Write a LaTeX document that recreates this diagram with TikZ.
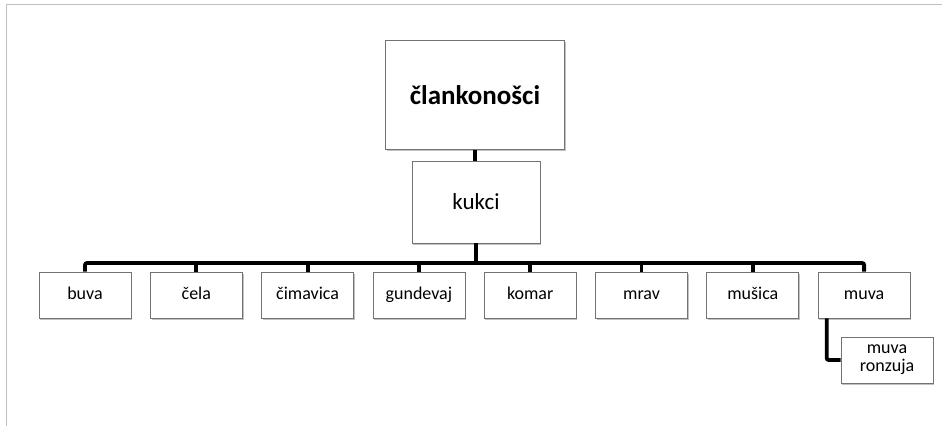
\documentclass[tikz,border=0pt]{standalone}
\usepackage{fontspec}
\setmainfont{Carlito}
\usetikzlibrary{shadows}

\begin{document}
\begin{tikzpicture}[x=1pt,y=-1pt]
      \tikzstyle{kutija}=[rectangle,draw=black!55,line width=0.7pt,fill=white,inner sep=0pt,
        drop shadow={shadow xshift=1.2pt,shadow yshift=-1.8pt,fill=black!35,opacity=0.7}]
      \tikzstyle{vrh}=[kutija,minimum width=179pt,minimum height=109pt,font=\fontsize{27}{30}\selectfont\bfseries]
      \tikzstyle{srednja}=[kutija,minimum width=128pt,minimum height=82pt,font=\fontsize{23}{26}\selectfont]
      \tikzstyle{list}=[kutija,minimum width=92pt,minimum height=46pt,font=\fontsize{18}{21}\selectfont,
        text height=12pt,text depth=4pt]
      \tikzstyle{veza}=[line width=3.8pt,black]
      \useasboundingbox (0,0) rectangle (942,426);
      % okvir
      \draw[black!25,line width=1pt] (942,4) -- (6,4) -- (6,426);
      \node[vrh] (clankonosci) at (475,95) {člankonošci};
      \node[srednja] (kukci) at (476,202) {kukci};
      \coordinate (sina) at (0,263);
      \foreach \ime/\tekst [count=\i] in {buva/buva,cela/čela,cimavica/čimavica,gundevaj/gundevaj,
          komar/komar,mrav/mrav,musica/mušica,muva/muva}
        \node[list] (\ime) at (85+111.3*\i-111.3,295) {\tekst};
      \node[list,text height=,text depth=,align=center] (ronzuja) at (887,360) {muva\\[-3pt]ronzuja};
      % veze
      \draw[veza] (clankonosci.south) -- (clankonosci.south |- kukci.north);
      \draw[veza] (kukci.south) -- (kukci.south |- sina);
      \draw[veza,rounded corners=2pt] (buva.north) -- (buva.north |- sina) -- (muva.north |- sina) -- (muva.north);
      \foreach \ime in {cela,cimavica,gundevaj,komar,mrav,musica}
        \draw[veza] (\ime.north) -- (\ime.north |- sina);
      \draw[veza,rounded corners=2pt] ([xshift=9pt]muva.south west) |- (ronzuja.west);
\end{tikzpicture}
\end{document}
